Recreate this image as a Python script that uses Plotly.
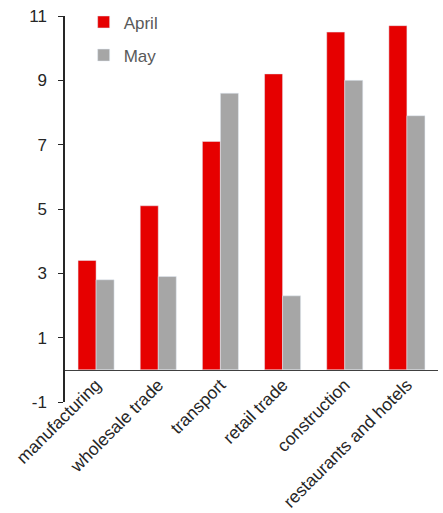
import plotly.graph_objects as go

categories = ["manufacturing", "wholesale trade", "transport", "retail trade",
              "construction", "restaurants and hotels"]
april = [3.4, 5.1, 7.1, 9.2, 10.5, 10.7]
may = [2.8, 2.9, 8.6, 2.3, 9.0, 7.9]
y_ticks = [-1, 1, 3, 5, 7, 9, 11]
y_tick_text = ["-1", "1", "3", "5", "7", "9", "11"]

fig = go.Figure()
fig.add_trace(go.Bar(x=categories, y=april, name="April", marker_color="#E60000",
                     legendgroup="a"))
fig.add_trace(go.Bar(x=categories, y=may, name="May", marker_color="#A6A6A6",
                     legendgroup="b"))

fig.update_layout(
    width=443, height=513,
    margin=dict(l=65, r=5, t=16, b=111, autoexpand=False),
    plot_bgcolor="white", paper_bgcolor="white",
    barmode="group", bargap=0.42, bargroupgap=0,
    font=dict(family="Liberation Sans, Arial", size=17, color="#262626"),
    legend=dict(x=0.05, y=1.03, xanchor="left", yanchor="top",
                font=dict(size=17, color="#595959"), tracegroupgap=8,
                bgcolor="rgba(0,0,0,0)", itemwidth=30),
    showlegend=True,
)
fig.update_yaxes(range=[-1, 11], tickvals=y_ticks, ticktext=y_tick_text,
                 showgrid=False, zeroline=False, automargin=False,
                 showline=True, linecolor="#262626", linewidth=1.5,
                 ticks="outside", ticklen=5, tickcolor="#262626",
                 ticklabelstandoff=8,
                 tickfont=dict(size=17, color="#262626"))
fig.update_xaxes(anchor="free", position=1/12, showgrid=False, showline=True,
                 automargin=False,
                 linecolor="#404040", linewidth=1, ticks="", tickangle=-45,
                 ticklabelstandoff=-3,
                 tickfont=dict(size=17.5, color="#262626"))

fig.write_html("out.html")
